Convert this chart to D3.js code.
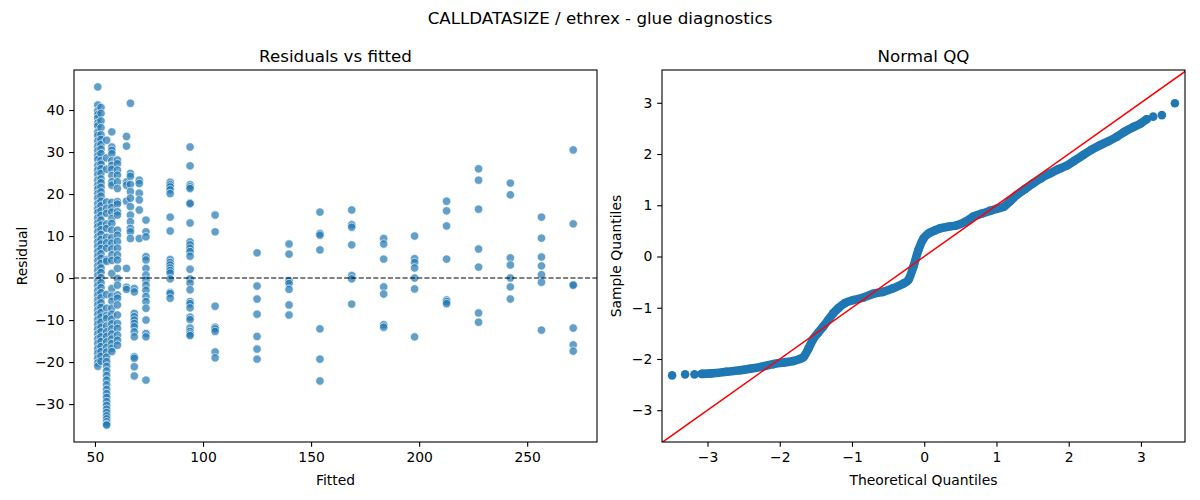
<!DOCTYPE html>
<html>
<head>
<meta charset="utf-8">
<script src="https://cdn.jsdelivr.net/npm/d3@7"></script>
<style>
    body { margin: 0; background: #fff; }
    svg text { font-family: "DejaVu Sans", sans-serif; fill: #000; }
</style>
</head>
<body>
<svg id="plot" width="1200" height="500"></svg>
<script>
'use strict';

// fitted value of each column, residuals read per column
const fittedValues = [51.3, 52.8, 55.4, 57.8, 60.4, 64.6, 66.4, 68.2, 70.5, 73.6,
    84.8, 94.0, 105.6, 125.0, 139.8, 154.1, 168.8, 183.6, 197.9, 212.7, 227.5, 242.2, 256.6, 271.3];
const residualColumns = [
    [45.5, 41.2, 39.8, 38.9, 38.1, 36.9, 36.2, 34.7, 33.9, 32.6, 31.4, 30.3, 29.1, 28.2, 26.8, 25.7, 24.6, 23.3, 22.1, 21.2,
        20.1, 19.0, 17.7, 16.5, 15.6, 14.3, 13.1, 12.2, 11.0, 9.8, 8.6, 7.5, 6.3, 5.2, 4.1, 2.9, 1.8, 0.6, -0.7, -1.8,
        -3.0, -4.1, -5.3, -6.4, -7.6, -8.7, -9.9, -11.0, -12.2, -13.3, -14.5, -15.6, -16.8, -17.9, -19.1, -20.2, -21.0],
    [40.6, 39.2, 37.4, 35.8, 34.1, 33.0, 31.8, 30.7, 29.6, 28.0, 27.1, 26.0, 24.9, 23.6, 22.7, 21.6, 20.5, 19.5, 18.3, 17.2,
        16.0, 14.9, 13.8, 12.6, 11.5, 10.4, 9.2, 8.1, 7.0, 5.8, 4.7, 3.5, 2.4, 1.3, 0.1, -1.1, -2.3, -3.5, -4.7, -5.9,
        -7.0, -8.2, -9.3, -10.5, -11.7, -12.8, -14.0, -15.1, -16.3, -17.5, -18.6, -19.8],
    [32.8, 28.6, 25.9, 18.1, 16.6, 15.4, 12.9, 11.8, 9.7, 8.4, 7.1, 4.4, 4.0, -3.9, -7.2, -8.9, -9.6, -11.4, -12.8, -13.9,
        -15.2, -16.5, -17.6, -18.8, -19.9, -21.0, -22.1, -23.2, -24.3, -25.4, -26.5, -27.5, -28.4, -29.4, -30.3, -31.2,
        -32.0, -32.8, -33.5, -34.2, -34.8, -35.0],
    [34.8, 31.2, 30.4, 29.6, 27.9, 26.8, 25.9, 24.4, 22.9, 22.1, 18.0, 16.8, 15.7, 14.2, 13.0, 11.4, 9.6, 8.3, 6.9, 5.5,
        4.2, 1.1, -2.5, -4.3, -5.5, -7.2, -8.6, -9.8, -10.9, -12.1, -13.3, -14.5, -15.6, -16.7, -17.5],
    [28.1, 27.2, 25.7, 24.5, 22.9, 21.3, 18.2, 17.6, 15.8, 15.0, 11.4, 10.2, 8.7, 7.1, 5.5, 4.3, 2.3, -0.1, -1.7, -4.0,
        -4.8, -6.4, -8.8, -10.8, -12.0, -13.6, -14.8, -16.0],
    [33.7, 31.4, 22.9, 22.1, 18.3, 2.3, -2.2, -2.7],
    [41.6, 24.9, 24.2, 22.3, 20.6, 19.0, 17.0, 15.0, 13.4, 11.8, 11.0, 9.4],
    [-2.5, -3.3, -8.4, -9.2, -10.0, -10.8, -11.6, -12.8, -14.0, -18.7, -19.1, -21.1, -23.3],
    [23.3, 22.5, 20.2, 18.6, 16.2, 9.4],
    [13.8, 11.0, 9.8, 5.1, 4.3, 2.3, 0.7, -0.5, -1.7, -2.9, -4.4, -5.6, -7.2, -10.0, -13.2, -14.0, -24.3],
    [22.8, 22.2, 21.7, 21.0, 20.1, 14.5, 11.2, 4.4, 3.7, 3.1, 2.4, 1.8, 1.2, -0.2, -3.4, -3.7, -4.8],
    [31.2, 26.7, 22.2, 21.7, 21.3, 17.9, 17.7, 13.1, 8.6, 7.9, 7.1, 6.3, 5.2, 2.1, -0.2, -1.2, -2.8, -5.6, -6.1, -7.1,
        -9.3, -9.9, -11.9, -12.7, -13.3, -13.7],
    [15.0, 11.0, -6.7, -11.7, -12.1, -12.7, -17.6, -19.0],
    [6.0, -1.9, -5.0, -8.6, -13.9, -16.9, -19.3],
    [8.1, 5.7, -0.6, -1.3, -2.7, -6.4, -8.8],
    [15.7, 10.6, 10.2, 6.7, -12.1, -19.3, -24.5],
    [16.2, 12.7, 12.1, 7.9, 0.6, -0.2, -6.2],
    [9.4, 8.1, 4.5, -2.1, -3.8, -11.1, -11.7],
    [10.0, 4.6, 3.7, 2.4, 0.0, -2.6, -14.0],
    [18.3, 16.0, 12.4, 4.5, -5.2, -5.6, -6.1],
    [26.0, 23.3, 16.4, 6.9, 2.6, -8.3, -10.5],
    [22.6, 19.8, 4.8, 3.1, 0.0, -2.1, -5.0],
    [14.5, 9.5, 5.0, 2.9, 0.8, -1.0, -12.4],
    [30.5, 12.9, -1.6, -1.7, -11.9, -15.9, -17.4]
];

// QQ: isolated tail points and the dense band of points in between
const qqTailTheoretical = [-3.49, -3.31, -3.18, 3.17, 3.29, 3.47];
const qqTailSample = [-2.32, -2.30, -2.30, 2.73, 2.76, 2.99];
const qqBandTheoretical = [-3.08, -2.95, -2.74, -2.55, -2.41, -2.25, -2.09, -1.95, -1.81, -1.72, -1.67, -1.60, -1.54,
    -1.47, -1.40, -1.33, -1.26, -1.19, -1.10, -0.98, -0.84, -0.71, -0.57, -0.43, -0.29, -0.22, -0.15, -0.08, -0.01,
    0.06, 0.15, 0.22, 0.33, 0.45, 0.57, 0.68, 0.80, 0.91, 1.00, 1.10, 1.19, 1.28, 1.40, 1.51, 1.62, 1.74, 1.85, 1.97,
    2.08, 2.20, 2.31, 2.43, 2.55, 2.67, 2.78, 2.90, 3.00, 3.08];
const qqBandSample = [-2.29, -2.28, -2.25, -2.22, -2.19, -2.15, -2.10, -2.07, -2.04, -2.00, -1.96, -1.79, -1.62,
    -1.49, -1.37, -1.24, -1.11, -1.01, -0.91, -0.85, -0.80, -0.73, -0.69, -0.62, -0.53, -0.46, -0.20, 0.13, 0.35,
    0.45, 0.51, 0.55, 0.58, 0.61, 0.68, 0.78, 0.84, 0.89, 0.93, 0.97, 1.08, 1.20, 1.32, 1.43, 1.53, 1.62, 1.70, 1.77,
    1.87, 1.98, 2.08, 2.17, 2.25, 2.34, 2.44, 2.53, 2.60, 2.68];

const residualTicks = [-30, -20, -10, 0, 10, 20, 30, 40];
const fittedTicks = [50, 100, 150, 200, 250];
const quantileTicks = [-3, -2, -1, 0, 1, 2, 3];

const blue = '#1f77b4';
const tickSize = 4.86;
const fontSize = '13.9px';
const titleSize = '16.7px';

const leftBox = { x0: 74, x1: 597, y0: 70, y1: 442 };
const rightBox = { x0: 662, x1: 1185, y0: 70, y1: 442 };

const svg = d3.select('#plot');

function paddedExtent(values) {
    const [lo, hi] = d3.extent(values);
    const pad = (hi - lo) * 0.05;
    return [lo - pad, hi + pad];
}

function styleAxis(g) {
    g.select('.domain').remove();
    g.selectAll('.tick line').attr('stroke', '#000').attr('stroke-width', 1.1);
    g.selectAll('.tick text').style('font-size', fontSize).attr('fill', '#000');
}

function renderFrame(box) {
    svg.append('rect')
        .attr('x', box.x0)
        .attr('y', box.y0)
        .attr('width', box.x1 - box.x0)
        .attr('height', box.y1 - box.y0)
        .attr('fill', 'none')
        .attr('stroke', '#000')
        .attr('stroke-width', 1.1);
}

function renderAxes(box, xScale, yScale, xTicks, yTicks) {
    svg.append('g')
        .attr('transform', `translate(0, ${box.y1})`)
        .call(d3.axisBottom(xScale).tickValues(xTicks).tickSize(tickSize).tickPadding(4.86).tickSizeOuter(0))
        .call(styleAxis);

    svg.append('g')
        .attr('transform', `translate(${box.x0}, 0)`)
        .call(d3.axisLeft(yScale).tickValues(yTicks).tickSize(tickSize).tickPadding(4.86).tickSizeOuter(0))
        .call(styleAxis);
}

function renderLabels(box, title, xLabel, yLabel, yLabelX) {
    const midX = (box.x0 + box.x1) / 2;
    const midY = (box.y0 + box.y1) / 2;

    svg.append('text')
        .attr('x', midX).attr('y', 62)
        .attr('text-anchor', 'middle')
        .style('font-size', titleSize)
        .text(title);

    svg.append('text')
        .attr('x', midX).attr('y', 485)
        .attr('text-anchor', 'middle')
        .style('font-size', fontSize)
        .text(xLabel);

    svg.append('text')
        .attr('transform', `translate(${yLabelX}, ${midY}) rotate(-90)`)
        .attr('text-anchor', 'middle')
        .style('font-size', fontSize)
        .text(yLabel);
}

function renderResiduals() {
    const points = fittedValues.flatMap((f, i) => residualColumns[i].map(r => [f, r]));

    const xScale = d3.scaleLinear()
        .domain(paddedExtent(fittedValues))
        .range([leftBox.x0, leftBox.x1]);
    const yScale = d3.scaleLinear()
        .domain(paddedExtent(points.map(([_, r]) => r)))
        .range([leftBox.y1, leftBox.y0]);

    svg.append('g')
        .selectAll('circle')
        .data(points)
        .enter()
        .append('circle')
        .attr('cx', ([f]) => xScale(f))
        .attr('cy', ([_, r]) => yScale(r))
        .attr('r', 4.2)
        .attr('fill', blue)
        .attr('fill-opacity', 0.7)
        .attr('stroke', '#fff')
        .attr('stroke-opacity', 0.7)
        .attr('stroke-width', 0.9);

    svg.append('line')
        .attr('x1', leftBox.x0).attr('x2', leftBox.x1)
        .attr('y1', yScale(0)).attr('y2', yScale(0))
        .attr('stroke', '#000')
        .attr('stroke-width', 1.1)
        .attr('stroke-dasharray', '5.1,2.2');

    renderFrame(leftBox);
    renderAxes(leftBox, xScale, yScale, fittedTicks, residualTicks);
    renderLabels(leftBox, 'Residuals vs fitted', 'Fitted', 'Residual', 27);
}

function renderQQ() {
    const xScale = d3.scaleLinear().domain([-3.63, 3.61]).range([rightBox.x0, rightBox.x1]);
    const yScale = d3.scaleLinear().domain([-3.62, 3.64]).range([rightBox.y1, rightBox.y0]);

    const band = qqBandTheoretical.map((t, i) => [t, qqBandSample[i]]);
    const tails = qqTailTheoretical.map((t, i) => [t, qqTailSample[i]]);

    const clip = svg.append('clipPath').attr('id', 'qq-clip')
        .append('rect')
        .attr('x', rightBox.x0).attr('y', rightBox.y0)
        .attr('width', rightBox.x1 - rightBox.x0)
        .attr('height', rightBox.y1 - rightBox.y0);

    const line = d3.line()
        .x(([t]) => xScale(t))
        .y(([_, s]) => yScale(s))
        .curve(d3.curveMonotoneX);

    svg.append('path')
        .datum(band)
        .attr('d', line)
        .attr('fill', 'none')
        .attr('stroke', blue)
        .attr('stroke-width', 8.6)
        .attr('stroke-linecap', 'round')
        .attr('stroke-linejoin', 'round');

    svg.append('g')
        .selectAll('circle')
        .data(tails.concat(band))
        .enter()
        .append('circle')
        .attr('cx', ([t]) => xScale(t))
        .attr('cy', ([_, s]) => yScale(s))
        .attr('r', 4.3)
        .attr('fill', blue);

    // 45 degree reference line
    const lims = xScale.domain();
    svg.append('line')
        .attr('clip-path', 'url(#qq-clip)')
        .attr('x1', xScale(-4)).attr('y1', yScale(-4))
        .attr('x2', xScale(4)).attr('y2', yScale(4))
        .attr('stroke', '#ff0000')
        .attr('stroke-width', 1.5);

    renderFrame(rightBox);
    renderAxes(rightBox, xScale, yScale, quantileTicks, quantileTicks);
    renderLabels(rightBox, 'Normal QQ', 'Theoretical Quantiles', 'Sample Quantiles', 621);
}

renderResiduals();
renderQQ();

svg.append('text')
    .attr('x', 600).attr('y', 24)
    .attr('text-anchor', 'middle')
    .style('font-size', titleSize)
    .text('CALLDATASIZE / ethrex - glue diagnostics');
</script>
</body>
</html>
